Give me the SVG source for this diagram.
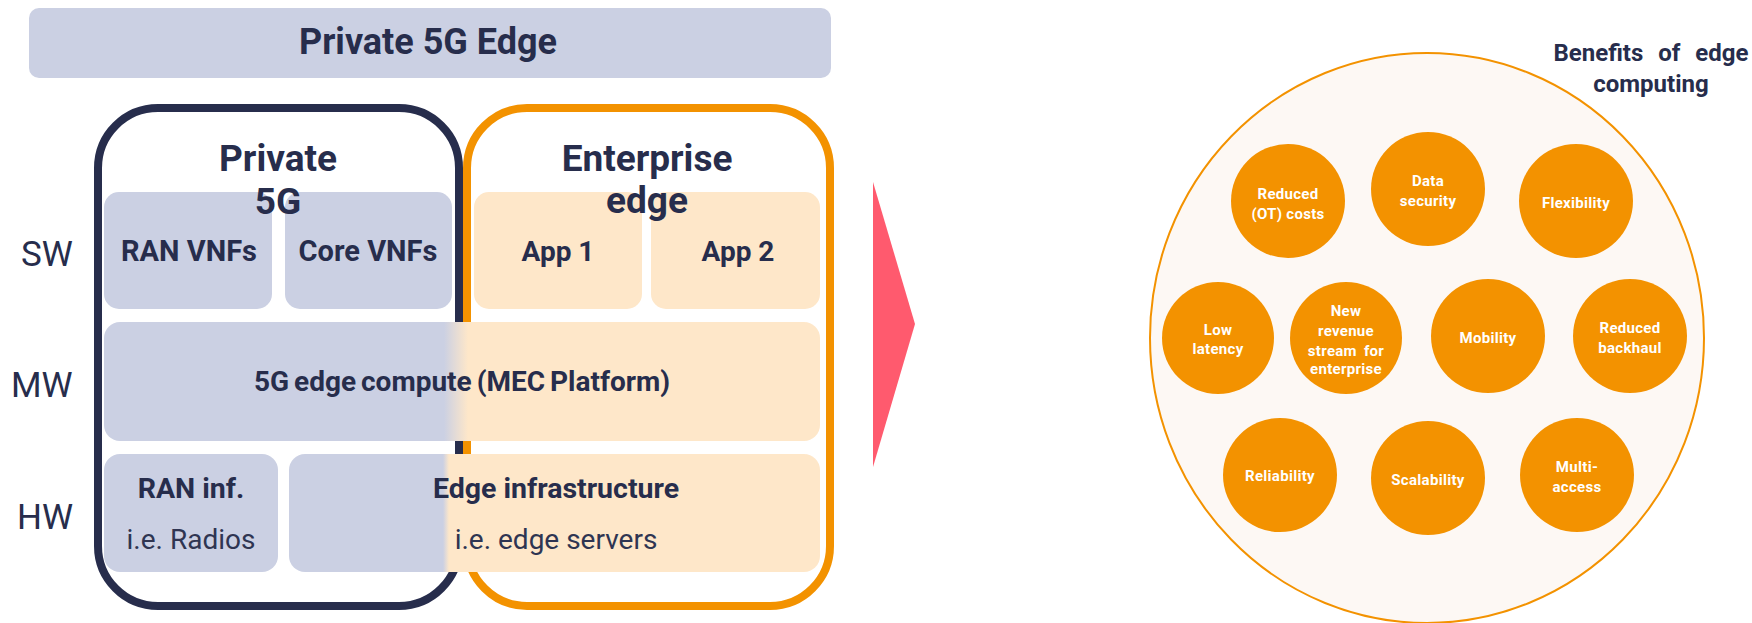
<svg xmlns="http://www.w3.org/2000/svg" width="1752" height="623" viewBox="0 0 1752 623">
  <style>
    .bold { font-family: Roboto, "Liberation Sans", sans-serif; font-weight: 700; fill: #272d4c; text-anchor: middle; }
    .reg { font-family: Roboto, "Liberation Sans", sans-serif; font-weight: 400; fill: #2f3552; text-anchor: middle; }
    .layer { font-family: Roboto, "Liberation Sans", sans-serif; font-weight: 400; fill: #272d4c; font-size: 35px; }
    .lav { fill: #cbd0e3; }
    .peach { fill: #fee7c9; }
    .dot { fill: #f39200; }
    .lbl { font-family: Roboto, "Liberation Sans", sans-serif; font-weight: 700; fill: #ffffff; font-size: 15px; letter-spacing: 0.3px; text-anchor: middle; }
  </style>
  <defs>
    <linearGradient id="mwFill" gradientUnits="userSpaceOnUse" x1="444" y1="0" x2="468" y2="0">
      <stop offset="0" stop-color="#cbd0e3"/>
      <stop offset="1" stop-color="#fee7c9"/>
    </linearGradient>
    <linearGradient id="hwFill" gradientUnits="userSpaceOnUse" x1="443" y1="0" x2="449" y2="0">
      <stop offset="0" stop-color="#cbd0e3"/>
      <stop offset="1" stop-color="#fee7c9"/>
    </linearGradient>
  </defs>

  <!-- banner -->
  <g id="banner">
    <rect x="29" y="8" width="802" height="70" rx="10" class="lav"/>
    <text x="428" y="54" class="bold" font-size="36">Private 5G Edge</text>
  </g>

  <!-- layer labels -->
  <g id="layers">
    <text x="21" y="266" class="layer">SW</text>
    <text x="11" y="397" class="layer">MW</text>
    <text x="17" y="529" class="layer">HW</text>
  </g>

  <!-- domain frames -->
  <g id="private5g-frame">
    <rect x="98" y="108" width="361" height="498" rx="60" fill="none" stroke="#272d4c" stroke-width="8"/>
  </g>
  <g id="enterprise-frame">
    <rect x="467" y="108" width="363" height="498" rx="60" fill="none" stroke="#f39200" stroke-width="8"/>
  </g>

  <!-- SW row -->
  <g id="ran-vnfs">
    <rect x="104" y="192" width="168" height="117" rx="15" class="lav"/>
    <text x="189" y="261" class="bold" font-size="29">RAN VNFs</text>
  </g>
  <g id="core-vnfs">
    <rect x="285" y="192" width="167" height="117" rx="15" class="lav"/>
    <text x="368" y="261" class="bold" font-size="29">Core VNFs</text>
  </g>
  <g id="app1">
    <rect x="474" y="192" width="168" height="117" rx="15" class="peach"/>
    <text x="558" y="261" class="bold" font-size="28">App 1</text>
  </g>
  <g id="app2">
    <rect x="651" y="192" width="169" height="117" rx="15" class="peach"/>
    <text x="738" y="261" class="bold" font-size="28">App 2</text>
  </g>

  <!-- frame titles -->
  <g id="private5g-title">
    <text x="278" y="171" class="bold" font-size="37">Private</text>
    <text x="278" y="214" class="bold" font-size="37">5G</text>
  </g>
  <g id="enterprise-title">
    <text x="647" y="171" class="bold" font-size="37">Enterprise</text>
    <text x="647" y="213" class="bold" font-size="37">edge</text>
  </g>

  <!-- MW row -->
  <g id="mec-platform">
    <rect x="104" y="322" width="716" height="119" rx="16" fill="url(#mwFill)"/>
    <text x="462" y="391" class="bold" font-size="28" word-spacing="-2">5G edge compute (MEC Platform)</text>
  </g>

  <!-- HW row -->
  <g id="ran-inf">
    <rect x="104" y="454" width="174" height="118" rx="16" class="lav"/>
    <text x="191" y="498" class="bold" font-size="28.5">RAN inf.</text>
    <text x="191" y="549" class="reg" font-size="28">i.e. Radios</text>
  </g>
  <g id="edge-infra">
    <rect x="289" y="454" width="531" height="118" rx="16" fill="url(#hwFill)"/>
    <text x="556" y="498" class="bold" font-size="28.5">Edge infrastructure</text>
    <text x="556" y="549" class="reg" font-size="28">i.e. edge servers</text>
  </g>

  <!-- arrow -->
  <g id="arrow">
    <polygon points="873,182 915,324 873,467" fill="#ff5a6e"/>
  </g>

  <!-- benefits -->
  <g id="benefits">
    <ellipse cx="1427" cy="338" rx="277" ry="285" fill="#fdf8f4" stroke="#f39200" stroke-width="2"/>
    <text x="1651" y="61" class="bold" font-size="24" word-spacing="9">Benefits of edge</text>
    <text x="1651" y="92" class="bold" font-size="24">computing</text>
  </g>

  <g id="b-reduced-costs">
    <circle cx="1288" cy="201" r="57" class="dot"/>
    <text x="1288" y="199" class="lbl">Reduced</text>
    <text x="1288" y="219" class="lbl">(OT) costs</text>
  </g>
  <g id="b-data-security">
    <circle cx="1428" cy="189" r="57" class="dot"/>
    <text x="1428" y="186" class="lbl">Data</text>
    <text x="1428" y="206" class="lbl">security</text>
  </g>
  <g id="b-flexibility">
    <circle cx="1576" cy="201" r="57" class="dot"/>
    <text x="1576" y="208" class="lbl">Flexibility</text>
  </g>
  <g id="b-low-latency">
    <circle cx="1218" cy="338" r="56" class="dot"/>
    <text x="1218" y="335" class="lbl">Low</text>
    <text x="1218" y="354" class="lbl">latency</text>
  </g>
  <g id="b-new-revenue">
    <circle cx="1346" cy="338" r="56" class="dot"/>
    <text x="1346" y="316" class="lbl">New</text>
    <text x="1346" y="336" class="lbl">revenue</text>
    <text x="1346" y="356" class="lbl" word-spacing="3">stream for</text>
    <text x="1346" y="374" class="lbl">enterprise</text>
  </g>
  <g id="b-mobility">
    <circle cx="1488" cy="336" r="57" class="dot"/>
    <text x="1488" y="343" class="lbl">Mobility</text>
  </g>
  <g id="b-reduced-backhaul">
    <circle cx="1630" cy="336" r="57" class="dot"/>
    <text x="1630" y="333" class="lbl">Reduced</text>
    <text x="1630" y="353" class="lbl">backhaul</text>
  </g>
  <g id="b-reliability">
    <circle cx="1280" cy="475" r="57" class="dot"/>
    <text x="1280" y="481" class="lbl">Reliability</text>
  </g>
  <g id="b-scalability">
    <circle cx="1428" cy="478" r="57" class="dot"/>
    <text x="1428" y="485" class="lbl">Scalability</text>
  </g>
  <g id="b-multi-access">
    <circle cx="1577" cy="475" r="57" class="dot"/>
    <text x="1577" y="472" class="lbl">Multi-</text>
    <text x="1577" y="492" class="lbl">access</text>
  </g>
</svg>
